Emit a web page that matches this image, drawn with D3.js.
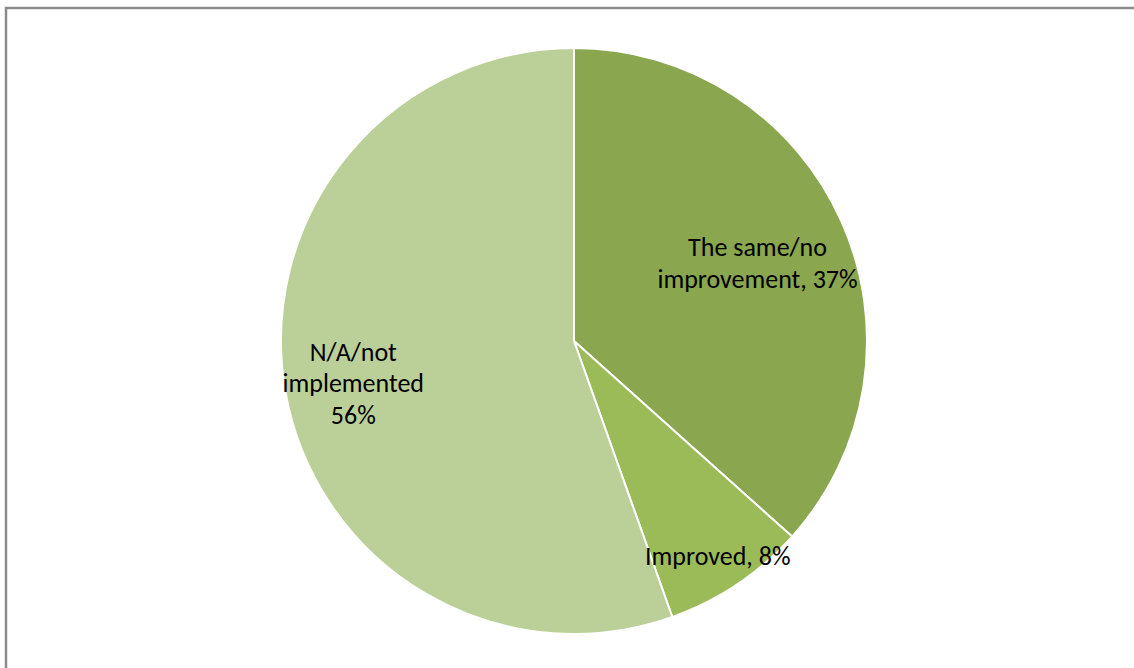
<!DOCTYPE html>
<html>
<head>
<meta charset="utf-8">
<script src="https://cdn.jsdelivr.net/npm/d3@7"></script>
<style>
  html, body { margin: 0; padding: 0; background: #fff; }
  svg { display: block; }
</style>
</head>
<body>
<svg id="chart" width="1134" height="668"></svg>
<script>
// Survey response shares (percent), in drawing order clockwise from 12 o'clock
const categories = ["The same/no improvement", "Improved", "N/A/not implemented"];
const values = [37, 8, 56];
// Label text lines for each slice
const labelLines = [
  ["The same/no", "improvement, 37%"],
  ["Improved, 8%"],
  ["N/A/not", "implemented", "56%"]
];

const colors = ["#8AA64F", "#9BBB59", "#BBCF98"];
// label anchor distance from the centre, plus a small vertical nudge
const labelRadius = [201, 258, 224];
const labelNudge = [4, 1, 4];

const W = 1134, H = 668;
const cx = 574, cy = 341, R = 293;

const svg = d3.select("#chart");

// chart frame
svg.append("rect")
  .attr("x", 6).attr("y", 8)
  .attr("width", W + 20).attr("height", H + 20)
  .attr("fill", "#fff")
  .attr("stroke", "#8C8C8C")
  .attr("stroke-width", 2.5);

const data = categories.map((c, i) => ({ name: c, value: values[i], lines: labelLines[i], idx: i }));

const pie = d3.pie().sort(null).value(d => d.value);
const arc = d3.arc().innerRadius(0).outerRadius(R);
const arcs = pie(data);

const g = svg.append("g").attr("transform", `translate(${cx},${cy})`);

g.selectAll("path.slice")
  .data(arcs)
  .join("path")
  .attr("class", "slice")
  .attr("d", arc)
  .attr("fill", d => colors[d.data.idx])
  .attr("stroke", "#fff")
  .attr("stroke-width", 2)
  .attr("stroke-linejoin", "round");

const fontSize = 26;
const lineH = 31.5;

const labels = g.selectAll("text.lbl")
  .data(arcs)
  .join("text")
  .attr("class", "lbl")
  .attr("font-family", "Carlito, Lato, 'Open Sans', sans-serif")
  .attr("font-size", fontSize)
  .attr("fill", "#000")
  .attr("text-anchor", "middle")
  .attr("transform", d => {
    const a = (d.startAngle + d.endAngle) / 2;
    const r = labelRadius[d.data.idx];
    return `translate(${Math.sin(a) * r},${-Math.cos(a) * r + labelNudge[d.data.idx]})`;
  });

labels.each(function(d) {
  const n = d.data.lines.length;
  const t = d3.select(this);
  d.data.lines.forEach((ln, i) => {
    t.append("tspan")
      .attr("x", 0)
      .attr("y", (i - (n - 1) / 2) * lineH)
      .attr("dy", "0.35em")
      .text(ln);
  });
});
</script>
</body>
</html>
